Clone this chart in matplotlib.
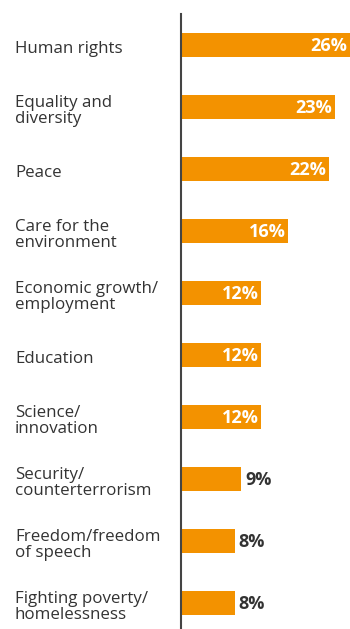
import matplotlib
matplotlib.use('Agg')
import matplotlib.pyplot as plt

# data
categories = ['Human rights', 'Equality and\ndiversity', 'Peace', 'Care for the\nenvironment',
              'Economic growth/\nemployment', 'Education', 'Science/\ninnovation',
              'Security/\ncounterterrorism', 'Freedom/freedom\nof speech',
              'Fighting poverty/\nhomelessness']
values = [26, 23, 22, 16, 12, 12, 12, 9, 8, 8]

bar_color = '#F39200'
text_color = '#333333'

plt.rcParams['font.family'] = ['Open Sans', 'DejaVu Sans']

fig = plt.figure(figsize=(3.5, 6.29), dpi=100)
ax = fig.add_axes([181 / 350, 0, 169 / 350, 1 - 14 / 629])

xmax = 25.2  # longest bar runs off the right edge
ypos = list(range(len(values)))
ax.barh(ypos, values, height=0.4, color=bar_color)
ax.set_xlim(0, xmax)
ax.set_ylim(9.42, -0.5)

for y, v in zip(ypos, values):
    if v >= 12:
        ax.annotate(f'{v}%', xy=(min(v, xmax), y), xytext=(-2, -0.5),
                    textcoords='offset points', ha='right', va='center',
                    color='white', fontsize=13, fontweight='bold')
    else:
        ax.annotate(f'{v}%', xy=(v, y), xytext=(3, -0.5),
                    textcoords='offset points', ha='left', va='center',
                    color=text_color, fontsize=13, fontweight='bold')

# category labels on the left, left-aligned
for y, c in zip(ypos, categories):
    ax.annotate(c, xy=(0, y), xycoords=('figure fraction', 'data'),
                xytext=(15, -4), textcoords='offset pixels',
                ha='left', va='center', color=text_color, fontsize=12.2,
                linespacing=1.05)

ax.set_xticks([])
ax.set_yticks([])
for s in ['top', 'right', 'bottom']:
    ax.spines[s].set_visible(False)
ax.spines['left'].set_color('#444444')
ax.spines['left'].set_linewidth(1.5)

fig.savefig('out.png', dpi=100)
